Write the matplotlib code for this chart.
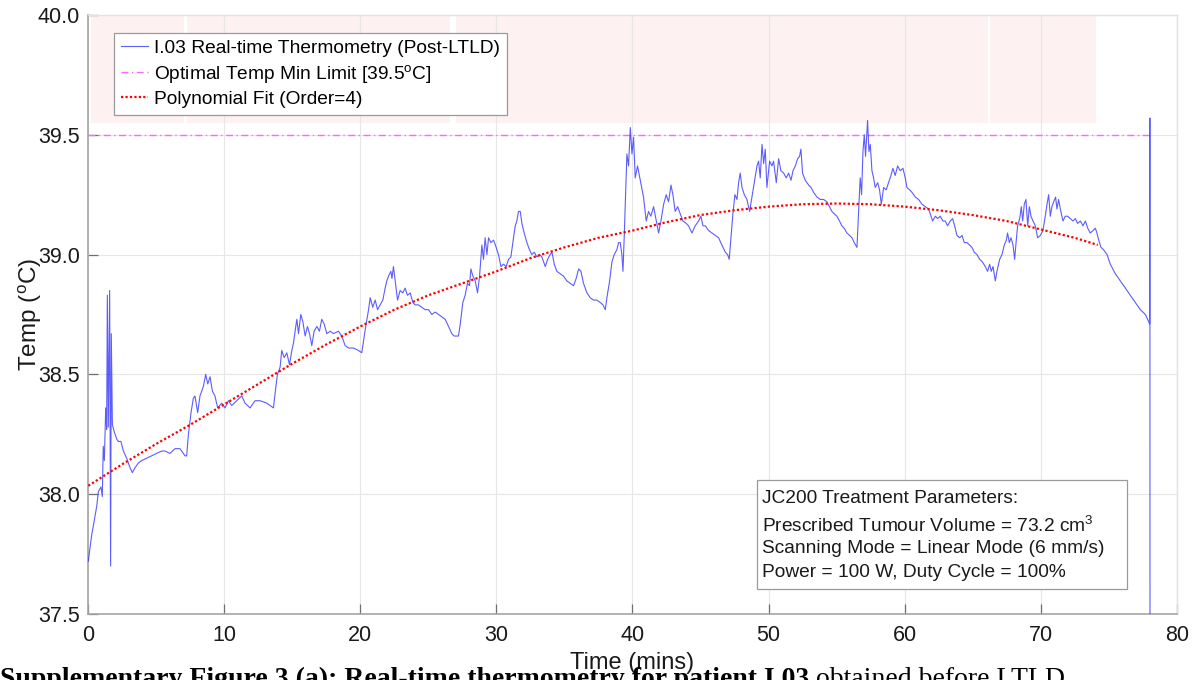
import matplotlib
matplotlib.use("Agg")
import matplotlib.pyplot as plt
from matplotlib.patches import Rectangle

plt.rcParams['font.family'] = ['Liberation Sans', 'DejaVu Sans']
plt.rcParams['mathtext.fontset'] = 'custom'
plt.rcParams['mathtext.rm'] = 'Liberation Sans'
plt.rcParams['mathtext.it'] = 'Liberation Sans:italic'
plt.rcParams['mathtext.bf'] = 'Liberation Sans:bold'

# ---- real-time thermometry trace (minutes, degC) ----
time_min = [
    0, 0.25, 0.44, 0.62, 0.74, 0.93, 1.03, 1.1, 1.18, 1.28, 1.35, 1.40, 1.47, 1.57, 1.64, 1.69,
    1.77, 1.91, 2.09, 2.21, 2.4, 2.58, 2.82, 3.07, 3.24, 3.43, 3.68, 3.92, 4.29, 4.66, 5.03, 5.39,
    5.64, 6.01, 6.37, 6.74, 7.11, 7.23, 7.36, 7.55, 7.72, 7.84, 8.04, 8.21, 8.46, 8.63, 8.78, 8.95,
    9.12, 9.31, 9.51, 9.81, 10.05, 10.3, 10.54, 10.91, 11.28, 11.52, 11.89, 12.26, 12.63, 13.12,
    13.61, 13.73, 13.9, 14.1, 14.22, 14.4, 14.59, 14.79, 14.96, 15.08, 15.2, 15.33, 15.45, 15.62,
    15.77, 15.94, 16.11, 16.26, 16.43, 16.6, 16.8, 16.99, 17.16, 17.34, 17.53, 17.78, 18.02, 18.39,
    18.63, 18.88, 19.13, 19.49, 19.86, 20.1, 20.23, 20.42, 20.6, 20.72, 20.91, 21.09, 21.26, 21.45,
    21.65, 21.82, 21.94, 22.07, 22.24, 22.32, 22.43, 22.56, 22.73, 22.92, 23.12, 23.29, 23.46, 23.66,
    23.86, 24.03, 24.27, 24.52, 24.76, 25.01, 25.25, 25.5, 25.74, 25.99, 26.23, 26.48, 26.72, 26.9,
    27.21, 27.34, 27.53, 27.7, 27.87, 28.02, 28.12, 28.27, 28.44, 28.61, 28.76, 28.93, 29.05, 29.17,
    29.3, 29.42, 29.59, 29.79, 29.98, 30.15, 30.33, 30.52, 30.72, 30.89, 31.06, 31.21, 31.38, 31.5,
    31.62, 31.75, 31.87, 32.04, 32.24, 32.43, 32.6, 32.78, 32.97, 33.17, 33.34, 33.59, 33.76, 33.95,
    34.08, 34.25, 34.44, 34.69, 34.93, 35.18, 35.42, 35.67, 35.86, 36.04, 36.21, 36.4, 36.65, 36.89,
    37.14, 37.38, 37.63, 37.83, 38.0, 38.12, 38.32, 38.49, 38.66, 38.85, 38.98, 39.1, 39.22, 39.3,
    39.39, 39.49, 39.59, 39.71, 39.84, 39.96, 40.08, 40.2, 40.37,
    40.57, 40.81, 41.01, 41.18, 41.35, 41.55, 41.75, 41.92, 42.09, 42.29, 42.48, 42.65, 42.83, 42.97,
    43.14, 43.32, 43.51, 43.71, 43.95, 44.12, 44.37, 44.61, 44.86, 45.03, 45.18, 45.35, 45.6, 45.84,
    46.08, 46.33, 46.57, 46.82, 46.99, 47.11, 47.24, 47.38, 47.53, 47.68, 47.8, 47.92, 48.05, 48.22,
    48.41, 48.61, 48.78, 48.95, 49.15, 49.27, 49.39, 49.52, 49.64, 49.76, 49.88, 50.08, 50.25, 50.37,
    50.57, 50.74, 50.91, 51.11, 51.3, 51.48, 51.65, 51.8, 51.97, 52.14, 52.28, 52.38, 52.5, 52.7,
    52.95, 53.12, 53.31, 53.56, 53.8, 54.05, 54.29,
    54.66, 54.83, 55.03, 55.22, 55.39, 55.56, 55.76, 55.96, 56.13, 56.3, 56.5, 56.57, 56.67, 56.74,
    56.84, 56.94, 57.04, 57.13, 57.28, 57.38, 57.48, 57.6, 57.72, 57.84, 58.02, 58.16, 58.29, 58.46,
    58.65, 58.82, 59.0, 59.14, 59.31, 59.49, 59.68, 59.88, 60.05, 60.17, 60.37, 60.54, 60.79, 61.03,
    61.28, 61.52, 61.77, 61.89, 62.06, 62.26, 62.43, 62.62, 62.82, 62.99, 63.16, 63.36, 63.53, 63.68,
    63.85, 64.05, 64.22, 64.39, 64.58, 64.78, 64.95, 65.12, 65.32, 65.52, 65.71, 65.93, 66.1, 66.25,
    66.37, 66.5, 66.67, 66.79,
    66.99, 67.16, 67.33, 67.48, 67.57, 67.7, 67.82, 67.97, 68.09, 68.21, 68.31, 68.46, 68.58, 68.68,
    68.8, 68.92, 69.05, 69.17, 69.29, 69.44, 69.61, 69.78, 69.98, 70.17, 70.34, 70.47, 70.59, 70.71,
    70.83, 70.96, 71.1, 71.2, 71.32, 71.45, 71.64, 71.81, 71.99, 72.18, 72.38, 72.55, 72.72, 72.92,
    73.11, 73.29, 73.46, 73.65, 73.85, 74.02, 74.14, 74.27, 74.44, 74.63, 74.88, 75.12, 75.49, 75.86,
    76.23, 76.59, 76.96, 77.33, 77.7, 78.02, 78.03, 78.04,
]
temp_c = [
    37.72, 37.83, 37.89, 37.95, 38.01, 38.03, 37.99, 38.20, 38.14, 38.36, 38.27, 38.83, 38.28, 38.85, 37.70, 38.67,
    38.29, 38.26, 38.23, 38.22, 38.22, 38.18, 38.15, 38.11, 38.09, 38.11, 38.13, 38.14, 38.15, 38.16, 38.17, 38.18,
    38.18, 38.17, 38.19, 38.19, 38.16, 38.16, 38.25, 38.34, 38.40, 38.41, 38.34, 38.41, 38.45, 38.50, 38.46, 38.49,
    38.43, 38.41, 38.36, 38.38, 38.36, 38.39, 38.37, 38.39, 38.41, 38.38, 38.36, 38.39, 38.39, 38.38,
    38.36, 38.42, 38.50, 38.53, 38.60, 38.57, 38.59, 38.54, 38.60, 38.63, 38.68, 38.73, 38.67, 38.75,
    38.72, 38.66, 38.70, 38.67, 38.62, 38.68, 38.70, 38.68, 38.73, 38.71, 38.67, 38.68, 38.67, 38.68,
    38.66, 38.62, 38.61, 38.61, 38.60, 38.59, 38.64, 38.71, 38.77, 38.82, 38.78, 38.81, 38.77, 38.79,
    38.81, 38.86, 38.89, 38.91, 38.93, 38.90, 38.95, 38.89, 38.81, 38.85, 38.84, 38.86, 38.83, 38.84,
    38.80, 38.79, 38.79, 38.78, 38.77, 38.77, 38.75, 38.76, 38.75, 38.74, 38.73, 38.70, 38.67, 38.66,
    38.66, 38.71, 38.80, 38.83, 38.88, 38.87, 38.94, 38.91, 38.89, 38.84, 38.91, 39.04, 38.98, 39.07,
    39.00, 39.07, 39.05, 39.06, 39.03, 39.00, 38.95, 38.96, 38.95, 38.98, 38.99, 39.05, 39.12, 39.14,
    39.18, 39.18, 39.13, 39.09, 39.05, 39.02, 39.00, 39.01, 38.99, 39.00, 38.99, 38.95, 38.98, 39.00,
    39.01, 38.96, 38.93, 38.92, 38.91, 38.89, 38.88, 38.87, 38.90, 38.94, 38.93, 38.88, 38.84, 38.82,
    38.81, 38.81, 38.80, 38.79, 38.77, 38.82, 38.89, 38.97, 39.00, 39.02, 39.05, 39.05, 39.00, 38.93,
    39.07, 39.24, 39.42, 39.37, 39.53, 39.42, 39.49, 39.32, 39.37,
    39.31, 39.24, 39.14, 39.18, 39.16, 39.20, 39.14, 39.09, 39.14, 39.21, 39.25, 39.22, 39.29, 39.25,
    39.18, 39.20, 39.17, 39.14, 39.13, 39.12, 39.09, 39.12, 39.14, 39.16, 39.12, 39.12, 39.10, 39.09,
    39.08, 39.07, 39.04, 39.01, 39.00, 38.98, 39.07, 39.17, 39.25, 39.23, 39.30, 39.34, 39.28, 39.25,
    39.23, 39.18, 39.24, 39.30, 39.37, 39.39, 39.32, 39.46, 39.38, 39.44, 39.28, 39.39, 39.37, 39.39,
    39.30, 39.40, 39.35, 39.34, 39.32, 39.34, 39.31, 39.35, 39.37, 39.40, 39.41, 39.44, 39.34, 39.31,
    39.29, 39.28, 39.26, 39.24, 39.23, 39.23, 39.22,
    39.18, 39.17, 39.16, 39.14, 39.12, 39.11, 39.09, 39.08, 39.07, 39.05, 39.03, 39.12, 39.24, 39.32,
    39.25, 39.43, 39.50, 39.41, 39.56, 39.43, 39.46, 39.35, 39.32, 39.28, 39.30, 39.27, 39.21, 39.28,
    39.27, 39.30, 39.33, 39.36, 39.33, 39.37, 39.35, 39.36, 39.32, 39.28, 39.27, 39.26, 39.24, 39.23,
    39.21, 39.20, 39.19, 39.17, 39.14, 39.16, 39.15, 39.16, 39.14, 39.14, 39.12, 39.14, 39.15, 39.12,
    39.08, 39.07, 39.08, 39.05, 39.05, 39.04, 39.03, 39.01, 39.00, 38.98, 38.97, 38.95, 38.93, 38.96,
    38.93, 38.95, 38.89, 38.93,
    38.98, 39.00, 39.04, 39.06, 39.09, 39.05, 39.07, 39.04, 38.98, 39.06, 39.12, 39.15, 39.20, 39.14,
    39.21, 39.23, 39.12, 39.20, 39.16, 39.14, 39.12, 39.07, 39.08, 39.10, 39.16, 39.21, 39.25, 39.16,
    39.20, 39.22, 39.24, 39.19, 39.23, 39.19, 39.14, 39.16, 39.16, 39.15, 39.14, 39.15, 39.13, 39.14,
    39.12, 39.14, 39.11, 39.09, 39.10, 39.11, 39.09, 39.06, 39.03, 39.02, 39.00, 38.96, 38.92, 38.89,
    38.86, 38.83, 38.80, 38.77, 38.75, 38.71, 39.57, 37.00,
]

# ---- 4th-order polynomial fit curve (minutes, degC) ----
fit_time = [0, 2.5, 5, 7.5, 10, 12.5, 15, 17.5, 20, 22.5, 25, 27.5, 30, 32.5, 35, 37.5,
            40, 42.5, 45, 47.5, 50, 52.5, 55, 57.5, 60, 62.5, 65, 67.5, 70, 72.5, 74.2]
fit_temp = [38.035, 38.125, 38.21, 38.29, 38.375, 38.46, 38.545, 38.625, 38.70, 38.77, 38.83,
            38.88, 38.93, 38.985, 39.03, 39.07, 39.10, 39.135, 39.165, 39.185, 39.20, 39.21,
            39.213, 39.21, 39.20, 39.185, 39.165, 39.14, 39.105, 39.07, 39.04]

# ---- optimal minimum temperature limit ----
limit_time = [0, 78.0]
limit_temp = 39.5

# ---- treatment-segment bands above the limit ----
band_start = [0.2, 7.25, 27.06, 66.3]
band_end = [7.04, 26.6, 66.1, 74.1]
band_low, band_high = 39.55, 40.0

x_ticks = [0, 10, 20, 30, 40, 50, 60, 70, 80]
y_ticks = [37.5, 38.0, 38.5, 39.0, 39.5, 40.0]

info_lines = [
    "JC200 Treatment Parameters:",
    "Prescribed Tumour Volume = 73.2 cm$^{3}$",
    "Scanning Mode = Linear Mode (6 mm/s)",
    "Power = 100 W, Duty Cycle = 100%",
]

fig = plt.figure(figsize=(11.98, 6.8), dpi=100)
ax = fig.add_axes([0.0737, 0.0971, 0.9085, 0.8809])

for s, e in zip(band_start, band_end):
    ax.fill_between([s, e], band_low, band_high, color=(0.993, 0.945, 0.945), lw=0, zorder=0.2)

ax.plot(time_min, temp_c, color=(0.15, 0.15, 1.0), lw=0.8, alpha=0.75, zorder=3,
        label="I.03 Real-time Thermometry (Post-LTLD)")
ax.plot(limit_time, [limit_temp] * len(limit_time), color=(1.0, 0.4, 1.0), lw=1.0,
        dashes=(5, 2.5, 1, 2.5), zorder=2,
        label="Optimal Temp Min Limit [39.5$^{\\mathrm{o}}$C]")
ax.plot(fit_time, fit_temp, color='red', lw=1.6, linestyle=(0, (1, 1)), zorder=4,
        label="Polynomial Fit (Order=4)")

ax.set_xlim(0, 80)
ax.set_ylim(37.5, 40.0)
ax.set_xticks(x_ticks)
ax.set_yticks(y_ticks)
ax.set_yticklabels([f"{v:.1f}" for v in y_ticks])
ax.set_axisbelow(True)
ax.grid(True, color='#e6e6e6', lw=0.8)

for side in ('left', 'bottom'):
    ax.spines[side].set_color('#a6a6a6')
    ax.spines[side].set_linewidth(1.2)
for side in ('top', 'right'):
    ax.spines[side].set_color('#e2e2e2')
    ax.spines[side].set_linewidth(1.0)

ax.tick_params(direction='in', length=7, width=0.9, color='#6e6e6e', labelsize=15.5,
               labelcolor='#1a1a1a')
ax.tick_params(axis='x', pad=8)
ax.tick_params(axis='y', pad=6)

ax.set_xlabel("Time (mins)", fontsize=17, color='#1a1a1a')
ax.xaxis.set_label_coords(0.5, -0.064)
ax.set_ylabel("Temp ($^{\\mathrm{o}}$C)", fontsize=17.5, color='#1a1a1a')
ax.yaxis.set_label_coords(-0.041, 0.5)

leg = ax.legend(loc='upper left', bbox_to_anchor=(0.0236, 0.970), borderaxespad=0,
                fontsize=13.8, handlelength=1.45, handletextpad=0.3, labelspacing=0.3,
                borderpad=0.35, fancybox=False, framealpha=1, edgecolor='#9a9a9a')
leg.get_frame().set_linewidth(0.9)
leg.set_zorder(10)

# parameter box
box = Rectangle((0.6144, 0.0417), 0.9540 - 0.6144, 0.2237 - 0.0417, transform=ax.transAxes,
                facecolor='white', edgecolor='#9a9a9a', lw=0.9, zorder=9)
ax.add_patch(box)
for txt, yb in zip(info_lines, [0.1858, 0.1374, 0.1014, 0.0623]):
    ax.text(0.619, yb, txt, transform=ax.transAxes, fontsize=13.8, va='baseline', ha='left',
            color='#1a1a1a', zorder=11)

# figure caption along the bottom edge
cap_y = -0.009
cap_bold = fig.text(0.0, cap_y, "Supplementary Figure 3 (a): Real-time thermometry for patient I.03",
                    fontsize=20, fontweight='bold', family=['Liberation Serif'],
                    va='baseline', ha='left')
fig.canvas.draw()
bb = cap_bold.get_window_extent()
fig.text(bb.x1 / fig.bbox.width + 0.006, cap_y, "obtained before LTLD",
         fontsize=20, family=['Liberation Serif'], va='baseline', ha='left')

fig.savefig("out.png", dpi=100)
